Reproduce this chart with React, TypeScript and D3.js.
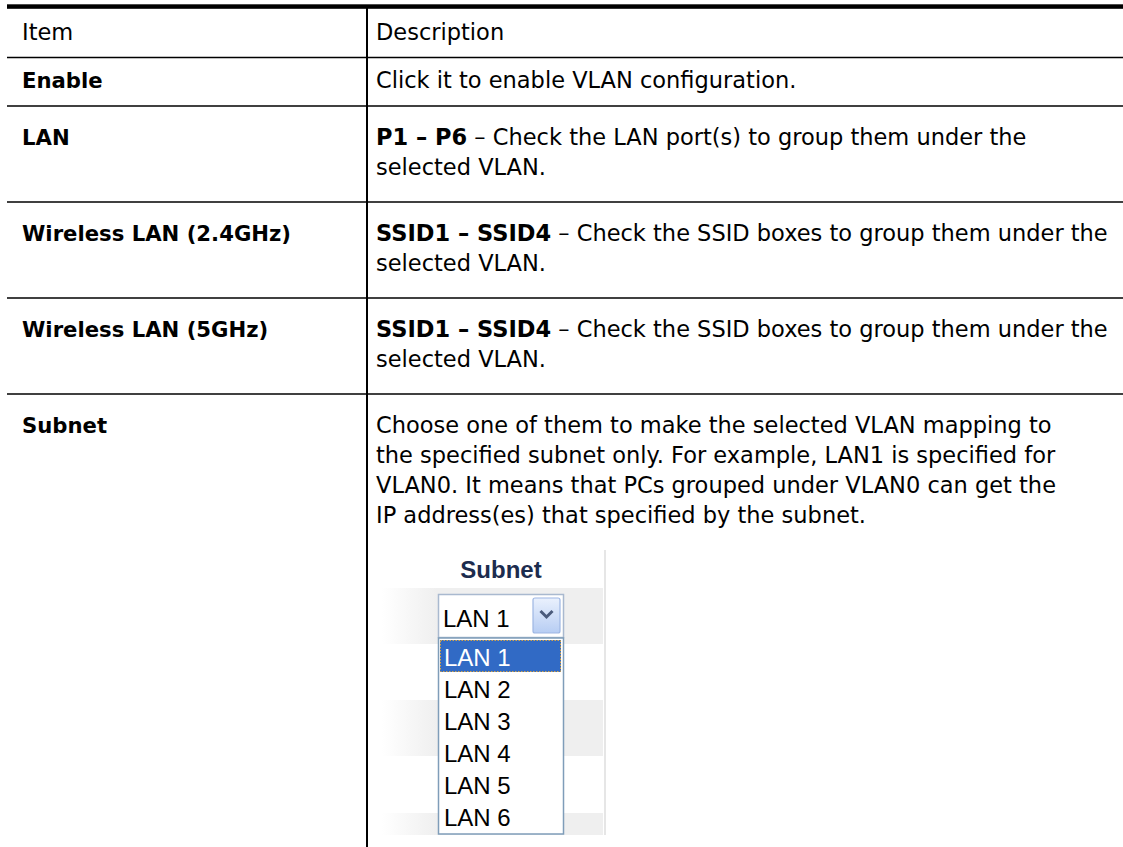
import React from "react";
import * as d3 from "d3";

const HEADERS = ["Item", "Description"];
const ITEMS = ["Enable", "LAN", "Wireless LAN (2.4GHz)", "Wireless LAN (5GHz)", "Subnet"];
const BOLD_PREFIX = ["", "P1 – P6", "SSID1 – SSID4", "SSID1 – SSID4", ""];
const DESC_LINES = [
  ["Click it to enable VLAN configuration."],
  [" – Check the LAN port(s) to group them under the", "selected VLAN."],
  [" – Check the SSID boxes to group them under the", "selected VLAN."],
  [" – Check the SSID boxes to group them under the", "selected VLAN."],
  [
    "Choose one of them to make the selected VLAN mapping to",
    "the specified subnet only. For example, LAN1 is specified for",
    "VLAN0. It means that PCs grouped under VLAN0 can get the",
    "IP address(es) that specified by the subnet.",
  ],
];
const WIDGET_TITLE = "Subnet";
const SELECTED = "LAN 1";
const OPTIONS = ["LAN 1", "LAN 2", "LAN 3", "LAN 4", "LAN 5", "LAN 6"];

// layout
const W = 1123;
const H = 847;
const LEFT = 7;
const COL_X = 367;
const TOP = 6.5;
const ROW_BOUNDS = [8.8, 57.5, 106, 202, 298, 394, H];
const FONT = "'DejaVu Sans', Verdana, sans-serif";
const FS = 22.5;
const FS_ITEM = 21.2;
const LINE = 30;

export default function App() {
  const y = d3.scaleLinear().domain([0, 1]).range([0, LINE]);
  const optScale = d3.scaleBand<string>().domain(OPTIONS).range([640, 832]);
  const bandRows = [588, 700, 813];
  return (
    <svg
      width={W}
      height={H}
      style={{ position: "absolute", left: 0, top: 0, background: "#fff" }}
      fontFamily={FONT}
    >
      <defs>
        <linearGradient id="band" x1="0" x2="1" y1="0" y2="0">
          <stop offset="0" stopColor="#ffffff" />
          <stop offset="0.25" stopColor="#efefef" />
          <stop offset="1" stopColor="#efefef" />
        </linearGradient>
        <linearGradient id="btn" x1="0" x2="0" y1="0" y2="1">
          <stop offset="0" stopColor="#eaf1fd" />
          <stop offset="1" stopColor="#b7cdf3" />
        </linearGradient>
      </defs>
      {/* table rules */}
      <rect x={LEFT} y={TOP - 2.2} width={W - LEFT} height={4.5} fill="#000" />
      {ROW_BOUNDS.slice(1, -1).map((b, i) => (
        <line key={i} x1={LEFT} x2={W} y1={b} y2={b} stroke="#000" strokeWidth={1.6} />
      ))}
      <line x1={COL_X} x2={COL_X} y1={TOP} y2={H} stroke="#000" strokeWidth={2} />

      {/* header */}
      <text x={22} y={40} fontSize={FS} fill="#000">{HEADERS[0]}</text>
      <text x={376} y={40} fontSize={FS} fill="#000">{HEADERS[1]}</text>

      {ITEMS.map((item, i) => {
        const top = ROW_BOUNDS[i + 1];
        const lines = DESC_LINES[i];
        const first = lines.length === 1 ? top + 30 : top + 39;
        return (
          <g key={item}>
            <text x={22} y={first} fontSize={FS_ITEM} fontWeight="bold" fill="#000">
              {item}
            </text>
            {lines.map((ln, j) => (
              <text key={j} x={376} y={first + y(j)} fontSize={FS} fill="#000">
                {j === 0 && BOLD_PREFIX[i] ? (
                  <tspan fontWeight="bold">{BOLD_PREFIX[i]}</tspan>
                ) : null}
                {ln}
              </text>
            ))}
          </g>
        );
      })}

      {/* subnet widget */}
      <g fontFamily="'Liberation Sans', Arial, sans-serif">
        <rect x={380} y={550} width={225} height={285} fill="#fff" />
        <line x1={605} x2={605} y1={550} y2={835} stroke="#e6e6e6" strokeWidth={2} />
        {bandRows.map((b, i) => (
          <rect key={i} x={382} y={b} width={221} height={Math.min(56, 835 - b)} fill="url(#band)" />
        ))}
        <text x={501} y={578} textAnchor="middle" fontSize={24} fontWeight="bold" fill="#1c2c4e">
          {WIDGET_TITLE}
        </text>
        <rect x={438.5} y={594.5} width={125} height={43} fill="#fff" stroke="#a9b9cf" strokeWidth={1.5} />
        <rect x={533} y={598} width={27} height={35} rx={2} fill="url(#btn)" stroke="#9db6e3" strokeWidth={1.2} />
        <path d="M540.5,611 L546.5,617 L552.5,611" fill="none" stroke="#4b5b7c" strokeWidth={3} />
        <text x={443} y={627} fontSize={24} fill="#000">{SELECTED}</text>
        <rect x={438.5} y={638} width={125} height={196} fill="#fff" stroke="#7f9db9" strokeWidth={1.5} />
        {OPTIONS.map((o, i) => (
          <g key={o}>
            {i === 0 && (
              <>
                <rect x={440} y={optScale(o)} width={121} height={optScale.bandwidth()} fill="#316ac5" />
                <rect
                  x={440.5}
                  y={(optScale(o) as number) + 0.5}
                  width={120}
                  height={optScale.bandwidth() - 1}
                  fill="none"
                  stroke="#d6a448"
                  strokeWidth={1}
                  strokeDasharray="1.5,1.5"
                />
              </>
            )}
            <text
              x={444}
              y={(optScale(o) as number) + optScale.bandwidth() - 6}
              fontSize={24}
              fill={i === 0 ? "#fff" : "#000"}
            >
              {o}
            </text>
          </g>
        ))}
      </g>
    </svg>
  );
}
